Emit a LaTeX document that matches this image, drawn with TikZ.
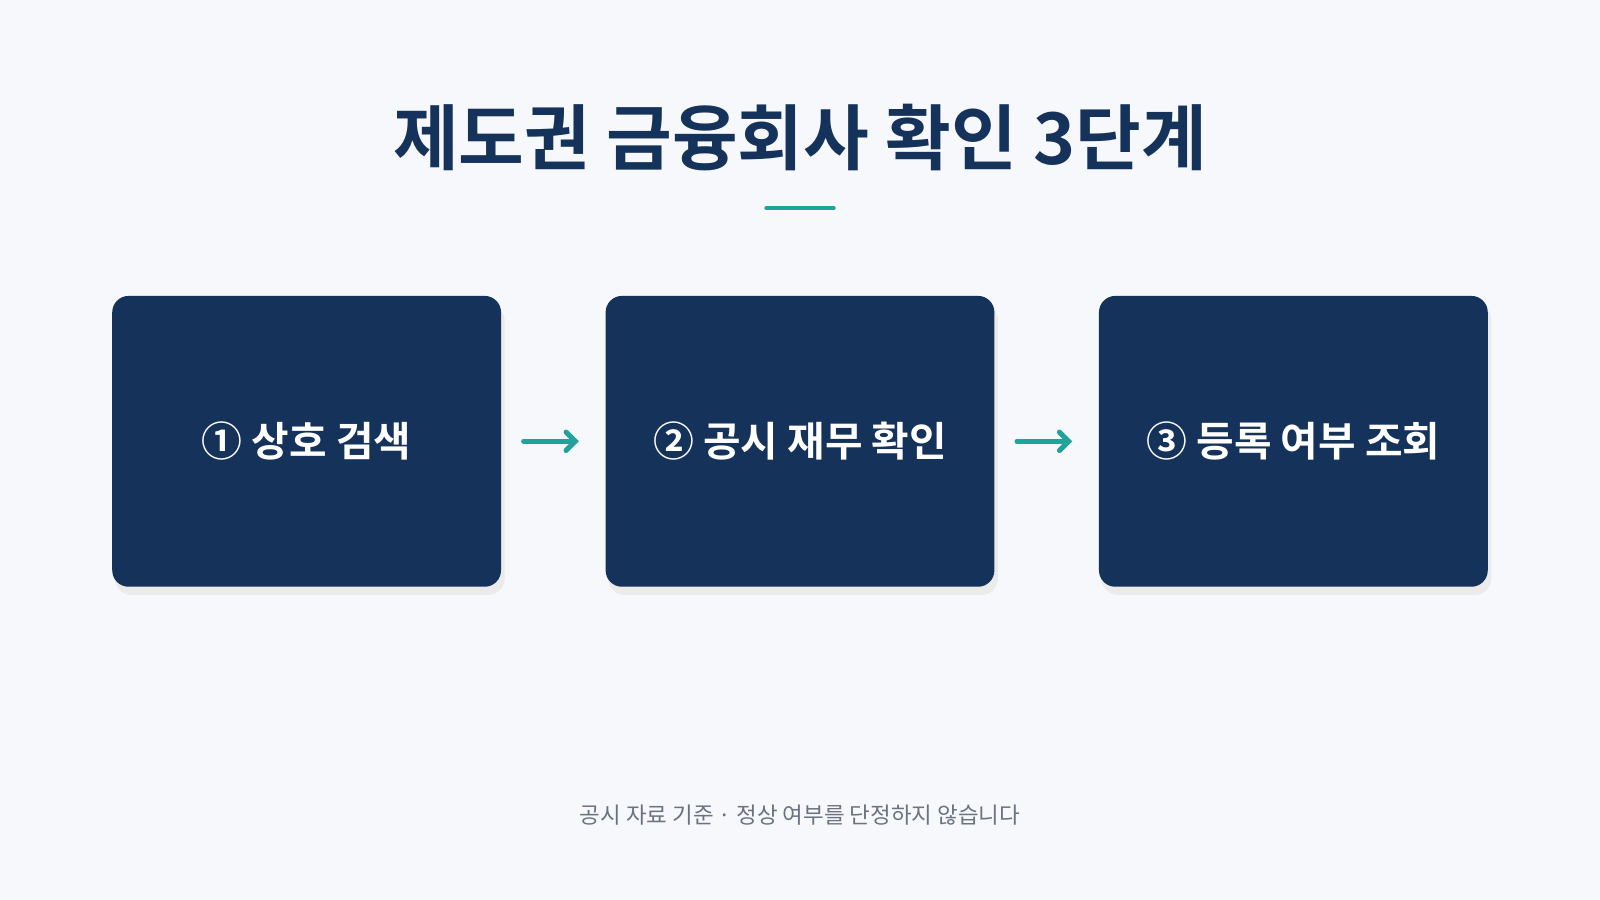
\documentclass[tikz,border=0pt]{standalone}
\usepackage{fontspec}
\usetikzlibrary{arrows.meta}
\setmainfont{Noto Sans CJK KR}
\newfontfamily\krb{Noto Sans CJK KR Bold}
\definecolor{bg}{HTML}{F6F8FB}
\definecolor{navy}{HTML}{14325A}
\definecolor{teal}{HTML}{20A39A}
\definecolor{gr}{HTML}{6B7280}
\begin{document}
\begin{tikzpicture}[x=1pt,y=-1pt,
  box/.style={fill=navy,rounded corners=16pt,minimum width=381pt,minimum height=285pt,draw=none},
  lbl/.style={text=white,font=\krb\fontsize{40}{48}\selectfont},
  arr/.style={draw=teal,line width=5pt,-{Straight Barb[length=9pt,width=18pt,line cap=round]},line cap=round}]
\useasboundingbox[fill=bg] (0,0) rectangle (1568,882);
\node[font=\krb\fontsize{70}{80}\selectfont,text=navy] (title) at (784,135) {제도권 금융회사 확인 3단계};
\coordinate (ul1) at (751,204); \coordinate (ul2) at (817,204);
\draw[teal,line width=4pt,line cap=round] (ul1) -- (ul2);
\foreach \n/\x in {a/300.5,b/784,c/1267.5}{
  \fill[black!8,rounded corners=16pt] (\x-188,298) rectangle (\x+194,583);
  \node[box] (\n) at (\x,432.5) {};}
\node[lbl] at (a) {① 상호 검색};
\node[lbl] at (b) {② 공시 재무 확인};
\node[lbl] at (c) {③ 등록 여부 조회};
\draw[arr] ([xshift=22pt]a.east) -- ([xshift=-26pt]b.west);
\draw[arr] ([xshift=22pt]b.east) -- ([xshift=-26pt]c.west);
\node[font=\fontsize{22}{26}\selectfont,text=gr] (foot) at (784,799) {공시 자료 기준 · 정상 여부를 단정하지 않습니다};
\end{tikzpicture}
\end{document}
